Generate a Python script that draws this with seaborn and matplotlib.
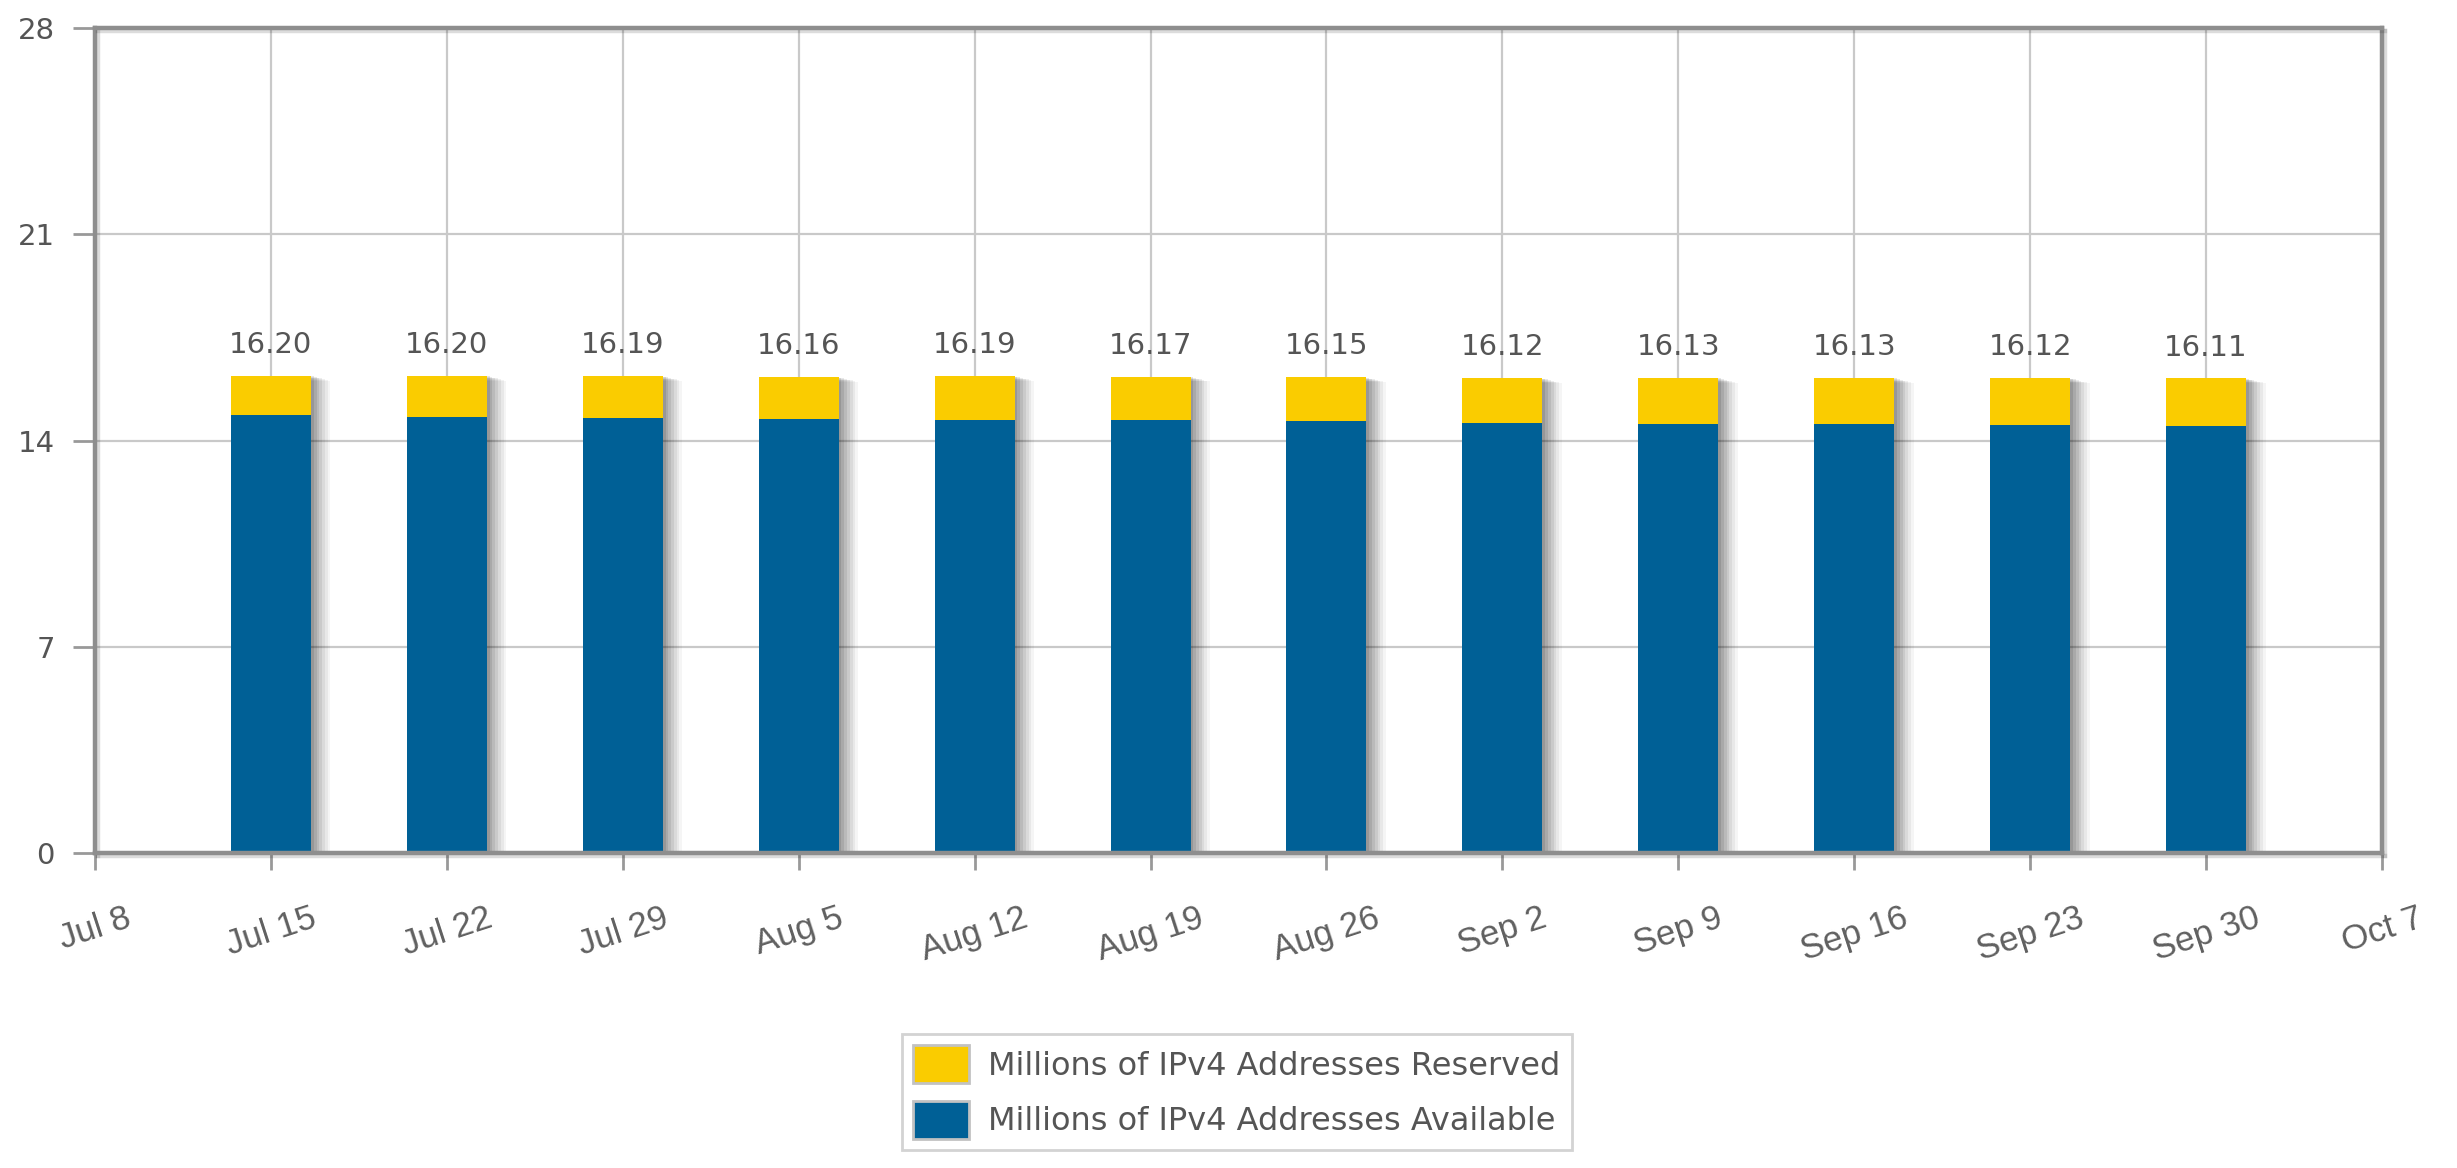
import matplotlib
matplotlib.use("Agg")
import matplotlib.pyplot as plt
import matplotlib.patheffects as pe
from matplotlib.patches import Patch
import numpy as np
import pandas as pd
import seaborn as sns

# ---------------- data ----------------
bar_dates = ["2012-07-15", "2012-07-22", "2012-07-29", "2012-08-05", "2012-08-12", "2012-08-19",
             "2012-08-26", "2012-09-02", "2012-09-09", "2012-09-16", "2012-09-23", "2012-09-30"]
totals = [16.20, 16.20, 16.19, 16.16, 16.19, 16.17, 16.15, 16.12, 16.13, 16.13, 16.12, 16.11]
available = [14.85, 14.81, 14.78, 14.74, 14.71, 14.68, 14.66, 14.61, 14.57, 14.55, 14.52, 14.50]
tick_dates = ["2012-07-08", "2012-07-15", "2012-07-22", "2012-07-29", "2012-08-05", "2012-08-12",
              "2012-08-19", "2012-08-26", "2012-09-02", "2012-09-09", "2012-09-16", "2012-09-23",
              "2012-09-30", "2012-10-07"]
tick_labels = ["Jul 8", "Jul 15", "Jul 22", "Jul 29", "Aug 5", "Aug 12", "Aug 19", "Aug 26",
               "Sep 2", "Sep 9", "Sep 16", "Sep 23", "Sep 30", "Oct 7"]
y_ticks = [0, 7, 14, 21, 28]
series_names = ["Millions of IPv4 Addresses Reserved", "Millions of IPv4 Addresses Available"]

YELLOW = "#FACC00"
BLUE = "#006096"
TEXT = "#555555"
GRID = "#c9c9c9"
FRAME = "#8e8e8e"

start = pd.Timestamp(tick_dates[0])
bar_x = [(pd.Timestamp(d) - start).days for d in bar_dates]
tick_x = [(pd.Timestamp(d) - start).days for d in tick_dates]

df = pd.DataFrame({"day": bar_x, "total": totals, "available": available})

sns.set_theme(style="white")
plt.rcParams["font.family"] = ["DejaVu Sans"]

fig = plt.figure(figsize=(24.57, 11.68), dpi=100)
ax = fig.add_axes([95 / 2457, 1 - 853 / 1168, (2382 - 95) / 2457, (853 - 28) / 1168])

sns.barplot(data=df, x="day", y="total", native_scale=True, width=0.455,
            color=YELLOW, saturation=1, errorbar=None, ax=ax, zorder=2)
n_tot = len(ax.patches)
sns.barplot(data=df, x="day", y="available", native_scale=True, width=0.455,
            color=BLUE, saturation=1, errorbar=None, ax=ax, zorder=3)

shadow_steps = [(14, 0.04), (12, 0.05), (10, 0.06), (8, 0.07), (6, 0.08), (4, 0.09), (2, 0.10)]
for i, p in enumerate(ax.patches):
    p.set_linewidth(0)
    if i < n_tot:
        effects = [pe.SimplePatchShadow(offset=(dx, -dx * 0.25), shadow_rgbFace="#000000", alpha=a)
                   for dx, a in shadow_steps]
        p.set_path_effects(effects + [pe.Normal()])

for xd, t in zip(bar_x, totals):
    ax.annotate(f"{t:.2f}", (xd, t), xytext=(0, 12), textcoords="offset points",
                ha="center", va="bottom", fontsize=21, color=TEXT, zorder=5)

ax.set_xlim(tick_x[0], tick_x[-1])
ax.set_ylim(0, 28)
ax.set_xticks(tick_x)
ax.set_xticklabels(tick_labels, rotation=18, fontsize=25, color="#606060",
                   family=["Liberation Sans", "DejaVu Sans"])
ax.set_yticks(y_ticks)
ax.set_yticklabels([str(v) for v in y_ticks], fontsize=21, color=TEXT)
ax.set_xlabel("")
ax.set_ylabel("")

ax.set_axisbelow(True)
ax.grid(True, color=GRID, linewidth=1.6, zorder=0)
ax.tick_params(axis="y", direction="out", length=16, width=2, color="#999999", pad=13, left=True)
ax.tick_params(axis="x", direction="out", length=12, width=2, color="#999999", pad=23, bottom=True)

for side, sp in ax.spines.items():
    sp.set_visible(True)
    sp.set_color(FRAME)
    sp.set_linewidth(3.2)
    sp.set_zorder(4)
    sp.set_path_effects([pe.SimpleLineShadow(offset=(2.5, -2.5), shadow_color="k", alpha=0.15),
                         pe.Normal()])

handles = [Patch(facecolor=YELLOW, edgecolor="#c2c2c2", linewidth=2),
           Patch(facecolor=BLUE, edgecolor="#c2c2c2", linewidth=2)]
leg = fig.legend(handles, series_names, loc="upper left",
                 bbox_to_anchor=(902 / 2457, 1 - 1034 / 1168), borderaxespad=0,
                 fontsize=23, frameon=True, fancybox=False, edgecolor="#c8c8c8",
                 handlelength=1.75, handleheight=1.45, handletextpad=0.6,
                 labelspacing=0.55, borderpad=0.35)
leg.get_frame().set_linewidth(2)
for t in leg.get_texts():
    t.set_color(TEXT)

fig.savefig("out.png", dpi=100, facecolor="white")
